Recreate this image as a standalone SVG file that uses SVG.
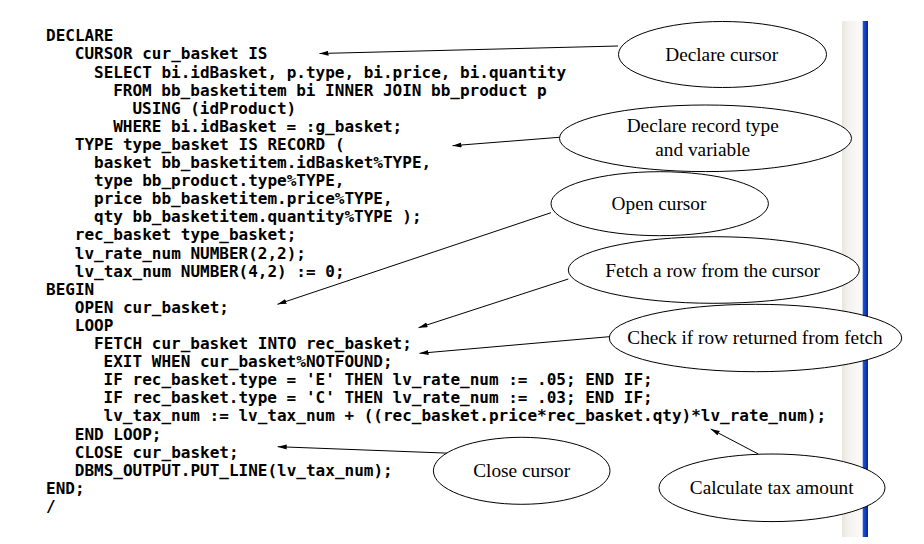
<svg xmlns="http://www.w3.org/2000/svg" width="924" height="544" viewBox="0 0 924 544">
<style>
.code{font-family:"DejaVu Sans Mono","Liberation Mono",monospace;font-weight:bold;font-size:16px;fill:#000;}
.lbl{font-family:"Liberation Serif","Times New Roman",serif;font-size:19.3px;fill:#000;text-anchor:middle;}
.ell{fill:#fff;stroke:#000;stroke-width:1;}
.conn{fill:none;stroke:#000;stroke-width:1;marker-end:url(#ah);}
</style>
<defs>
<marker id="ah" markerUnits="userSpaceOnUse" markerWidth="10" markerHeight="6" refX="9" refY="2.5" orient="auto">
<path d="M0,0 L9,2.5 L0,5 z" fill="#000"/>
</marker>
<linearGradient id="gs" x1="0" y1="0" x2="1" y2="0">
<stop offset="0" stop-color="#e8e5dc"/>
<stop offset="0.3" stop-color="#f3f2ee"/>
<stop offset="1" stop-color="#fbfbf9"/>
</linearGradient>
<linearGradient id="gb" x1="0" y1="0" x2="1" y2="0">
<stop offset="0" stop-color="#2458e0"/>
<stop offset="1" stop-color="#00279a"/>
</linearGradient>
</defs>
<rect width="924" height="544" fill="#fff"/>
<g id="scrollbar">
<rect x="842" y="21" width="21" height="516" fill="url(#gs)"/>
<rect x="862.7" y="21" width="5.3" height="516" fill="url(#gb)"/>
</g>
<g id="code" class="code">
<text x="46" y="41.3">DECLARE</text>
<text x="74.8" y="59.4">CURSOR cur_basket IS</text>
<text x="94" y="77.5">SELECT bi.idBasket, p.type, bi.price, bi.quantity</text>
<text x="113.2" y="95.6">FROM bb_basketitem bi INNER JOIN bb_product p</text>
<text x="132.4" y="113.7">USING (idProduct)</text>
<text x="113.2" y="131.8">WHERE bi.idBasket = :g_basket;</text>
<text x="74.8" y="149.9">TYPE type_basket IS RECORD (</text>
<text x="94" y="168">basket bb_basketitem.idBasket%TYPE,</text>
<text x="94" y="186.1">type bb_product.type%TYPE,</text>
<text x="94" y="204.2">price bb_basketitem.price%TYPE,</text>
<text x="94" y="222.3">qty bb_basketitem.quantity%TYPE );</text>
<text x="74.8" y="240.4">rec_basket type_basket;</text>
<text x="74.8" y="258.5">lv_rate_num NUMBER(2,2);</text>
<text x="74.8" y="276.6">lv_tax_num NUMBER(4,2) := 0;</text>
<text x="46" y="294.7">BEGIN</text>
<text x="74.8" y="312.8">OPEN cur_basket;</text>
<text x="74.8" y="330.9">LOOP</text>
<text x="94" y="349">FETCH cur_basket INTO rec_basket;</text>
<text x="103.6" y="367.1">EXIT WHEN cur_basket%NOTFOUND;</text>
<text x="103.6" y="385.2">IF rec_basket.type = 'E' THEN lv_rate_num := .05; END IF;</text>
<text x="103.6" y="403.3">IF rec_basket.type = 'C' THEN lv_rate_num := .03; END IF;</text>
<text x="103.6" y="421.4">lv_tax_num := lv_tax_num + ((rec_basket.price*rec_basket.qty)*lv_rate_num);</text>
<text x="74.8" y="439.5">END LOOP;</text>
<text x="74.8" y="457.6">CLOSE cur_basket;</text>
<text x="74.8" y="475.7">DBMS_OUTPUT.PUT_LINE(lv_tax_num);</text>
<text x="46" y="493.8">END;</text>
<text x="46" y="511.9">/</text>
</g>
<g id="connectors">
<line class="conn" x1="618" y1="46" x2="319.5" y2="53.5"/>
<line class="conn" x1="559.3" y1="137.3" x2="452.5" y2="145.7"/>
<line class="conn" x1="551" y1="212.7" x2="277.5" y2="304.3"/>
<line class="conn" x1="568.3" y1="279" x2="418.5" y2="327.7"/>
<line class="conn" x1="609.3" y1="336.7" x2="419.5" y2="353.3"/>
<line class="conn" x1="451.7" y1="453.3" x2="277.7" y2="446.7"/>
<line class="conn" x1="758.3" y1="454" x2="710.7" y2="429"/>
</g>
<g id="n-declare-cursor">
<ellipse class="ell" cx="722.5" cy="54.5" rx="104" ry="33"/>
<text class="lbl" x="721.7" y="60.5">Declare cursor</text>
</g>
<g id="n-declare-record">
<ellipse class="ell" cx="705.5" cy="138.3" rx="146" ry="33.3"/>
<text class="lbl" x="702.7" y="132">Declare record type</text>
<text class="lbl" x="702.7" y="156.3">and variable</text>
</g>
<g id="n-open-cursor">
<ellipse class="ell" cx="659.7" cy="203.7" rx="108.7" ry="32"/>
<text class="lbl" x="659" y="209.5">Open cursor</text>
</g>
<g id="n-fetch">
<ellipse class="ell" cx="713.8" cy="270" rx="145.5" ry="33.3"/>
<text class="lbl" x="712.7" y="277.3">Fetch a row from the cursor</text>
</g>
<g id="n-check">
<ellipse class="ell" cx="755.5" cy="338" rx="146.2" ry="33.7"/>
<text class="lbl" x="755" y="343.5">Check if row returned from fetch</text>
</g>
<g id="n-close">
<ellipse class="ell" cx="521.7" cy="470.8" rx="88.3" ry="33.5"/>
<text class="lbl" x="521.7" y="476.7">Close cursor</text>
</g>
<g id="n-calc">
<ellipse class="ell" cx="772" cy="487.8" rx="113" ry="33.8"/>
<text class="lbl" x="771.7" y="494">Calculate tax amount</text>
</g>
</svg>
